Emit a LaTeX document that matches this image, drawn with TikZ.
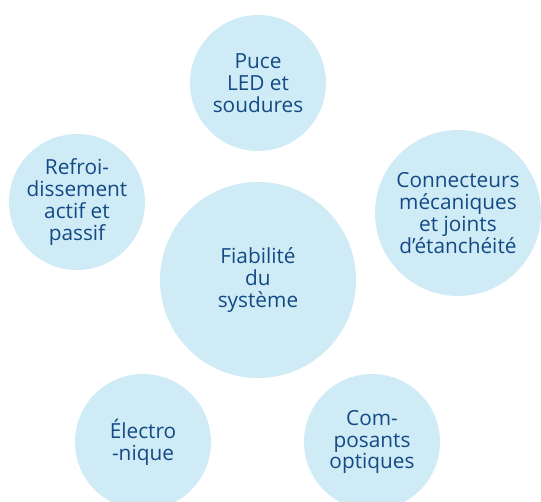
\documentclass[tikz,border=0pt]{standalone}
\usepackage{fontspec}
\setmainfont{Open Sans}
\usetikzlibrary{positioning}
\definecolor{bubblefill}{HTML}{CFEBF5}
\definecolor{bubbletext}{HTML}{134A86}
\tikzset{bubble/.style={circle,fill=bubblefill,text=bubbletext,inner sep=0pt,align=center,
                        font=\fontsize{14.8}{15.6}\selectfont,minimum size=3.4cm},
         bigbubble/.style={bubble,minimum size=4.9cm}}

\begin{document}
\begin{tikzpicture}
        \useasboundingbox (0,0) rectangle (13.525,-12.55);

        \node[bigbubble](sys)at(6.45,-7.0){Fiabilit\'e\\du\\syst\`eme};

        \node[bubble](led)at(6.45,-2.075){Puce\\LED et\\soudures};
        \node[bubble](cool)at(1.925,-5.05){Refroi-\\dissement\\actif et\\passif};
        \node[bubble, minimum size=4.15cm](conn)at(11.45,-5.325){Connecteurs\\m\'ecaniques\\et joints\\d’\'etanch\'eit\'e};

        \node[bubble](elec)at(3.575,-11.05){\'Electro\\-nique};
        \node[bubble](opt)at(9.3,-11.05){Com-\\posants\\optiques};
    \end{tikzpicture}
\end{document}
